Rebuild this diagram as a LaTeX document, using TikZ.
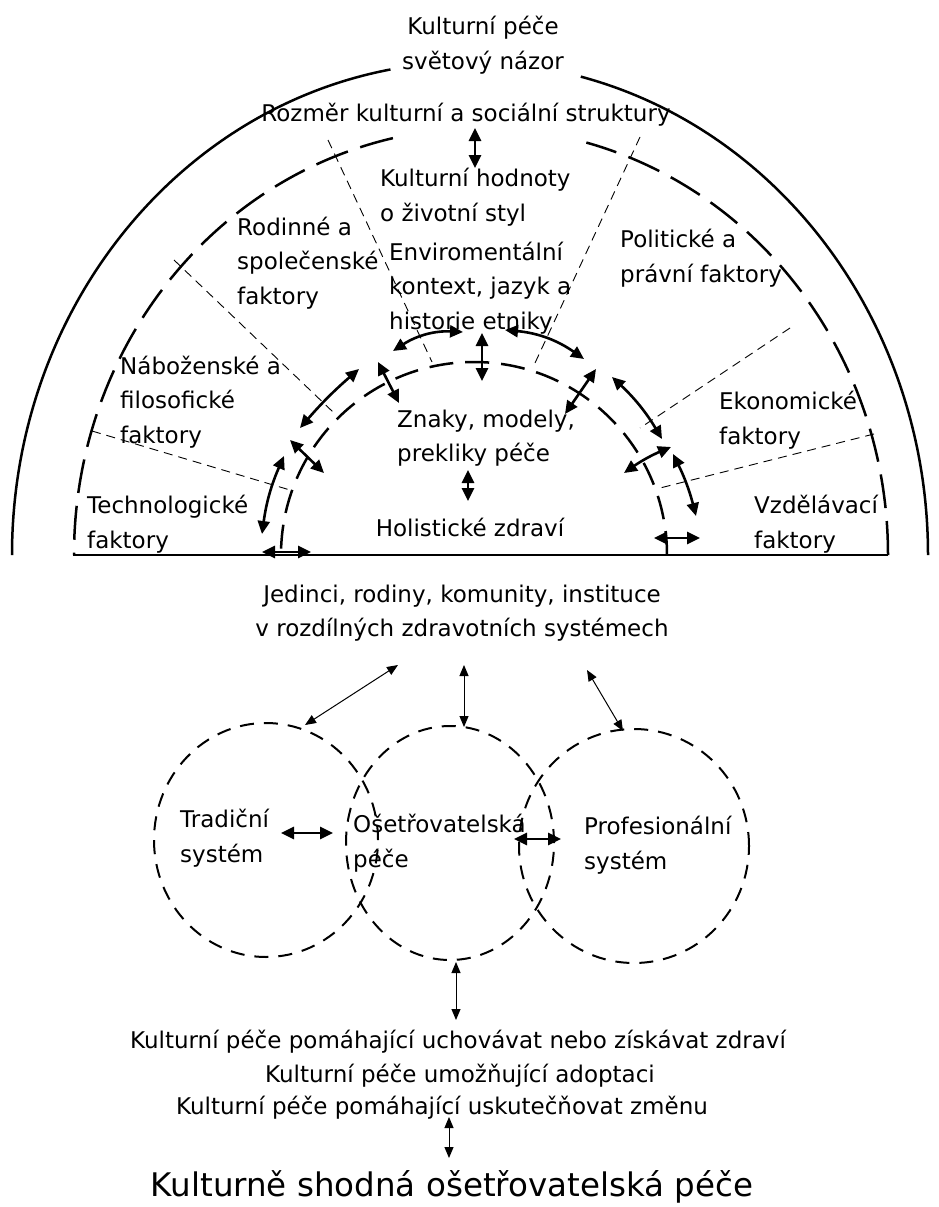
\documentclass[tikz,border=0pt]{standalone}
\usepackage{fontspec}
\setmainfont{DejaVu Sans}
\usetikzlibrary{arrows.meta}
\begin{document}
\begin{tikzpicture}[x=1pt,y=1pt,
  txt/.style={font=\fontsize{23}{34.5}\selectfont, inner sep=0pt, yshift=-5pt},
  lt/.style={txt, align=left, anchor=west},
  ct/.style={txt, align=center},
  solidarc/.style={line width=2.5pt},
  dasharc/.style={line width=2.5pt, dash pattern=on 34pt off 13pt},
  innerarc/.style={line width=2.5pt, dash pattern=on 24pt off 12pt},
  divider/.style={line width=0.9pt, dash pattern=on 9pt off 6pt},
  circ/.style={line width=2pt, dash pattern=on 14pt off 10pt},
  bigarrow/.style={line width=2.6pt, {Triangle[length=13pt,width=12pt]}-{Triangle[length=13pt,width=12pt]}},
  thinarrow/.style={line width=1pt, {Triangle[length=11pt,width=9pt]}-{Triangle[length=11pt,width=9pt]}},
]
\useasboundingbox (0,0) rectangle (939,-1207);

% ---------- arcs ----------
\draw[solidarc] (470,-555) ++(0:458 and 493) arc[start angle=0,end angle=76,x radius=458,y radius=493];
\draw[solidarc] (470,-555) ++(100:458 and 493) arc[start angle=100,end angle=180,x radius=458,y radius=493];
\draw[dasharc] (481,-555) ++(0:407 and 427) arc[start angle=0,end angle=75,x radius=407,y radius=427];
\draw[dasharc] (481,-555) ++(102.5:407 and 427) arc[start angle=102.5,end angle=180,x radius=407,y radius=427];
\draw[innerarc] (474,-555) ++(0:193) arc[start angle=0,end angle=180,radius=193];
\draw[line width=2.5pt] (73,-555) -- (888,-555);

% ---------- dividers ----------
\draw[divider] (328,-140) -- (432,-362);
\draw[divider] (640,-137) -- (535,-363);
\draw[divider] (174,-260) -- (333,-412);
\draw[divider] (92,-431) -- (290,-490);
\draw[divider] (790,-328) -- (640,-428);
\draw[divider] (874,-434) -- (660,-488);

% ---------- texts ----------
\node[ct] (kp) at (483,-40) {Kulturní péče\\světový názor};
\node[ct] (rozmer) at (466,-110) {Rozměr kulturní a sociální struktury};
\node[lt] (hodnoty) at (380,-192) {Kulturní hodnoty\\o životní styl};
\node[lt] (rodinne) at (237,-258) {Rodinné a\\společenské\\faktory};
\node[lt] (enviro) at (389,-283) {Enviromentální\\kontext, jazyk a\\historie etniky};
\node[lt] (politicke) at (620,-253) {Politické a\\právní faktory};
\node[lt] (nabozenske) at (120,-397) {Náboženské a\\filosofické\\faktory};
\node[lt] (ekonomicke) at (719,-415) {Ekonomické\\faktory};
\node[lt] (technologicke) at (87,-519) {Technologické\\faktory};
\node[lt] (vzdelavaci) at (754,-519) {Vzdělávací\\faktory};
\node[lt] (znaky) at (397,-433) {Znaky, modely,\\prekliky péče};
\node[ct] (holisticke) at (470,-522) {Holistické zdraví};
\node[ct] (jedinci) at (462,-608) {Jedinci, rodiny, komunity, instituce\\v rozdílných zdravotních systémech};
\node[lt] (tradicni) at (180,-833) {Tradiční\\systém};
\node[lt] (osetrovatelska) at (353,-838) {Ošetřovatelská\\péče};
\node[lt] (profesionalni) at (584,-840) {Profesionální\\systém};
\node[ct] (pece1) at (458,-1037) {Kulturní péče pomáhající uchovávat nebo získávat zdraví};
\node[ct] (pece2) at (460,-1071) {Kulturní péče umožňující adoptaci};
\node[ct] (pece3) at (442,-1103) {Kulturní péče pomáhající uskutečňovat změnu};
\node[txt, font=\fontsize{32.5}{36}\selectfont] (shodna) at (452,-1182) {Kulturně shodná ošetřovatelská péče};

% ---------- circles ----------
\draw[circ] (266,-840) ellipse [x radius=112,y radius=117];
\draw[circ] (450,-843) ellipse [x radius=104,y radius=117];
\draw[circ] (634,-846) ellipse [x radius=115,y radius=117];

% ---------- arrow end points ----------
\coordinate (a0s) at (475,-128); \coordinate (a0e) at (475,-168);
\coordinate (a1s) at (393,-351); \coordinate (a1e) at (463,-332);
\coordinate (a2s) at (482,-333); \coordinate (a2e) at (482,-381);
\coordinate (a3s) at (505,-330); \coordinate (a3e) at (584,-359);
\coordinate (a4s) at (300,-428); \coordinate (a4e) at (359,-369);
\coordinate (a5s) at (378,-362); \coordinate (a5e) at (399,-403);
\coordinate (a6s) at (290,-440); \coordinate (a6e) at (324,-473);
\coordinate (a7s) at (284,-456); \coordinate (a7e) at (262,-534);
\coordinate (a8s) at (262,-552); \coordinate (a8e) at (311,-552);
\coordinate (a9s) at (596,-369); \coordinate (a9e) at (565,-414);
\coordinate (a10s) at (612,-377); \coordinate (a10e) at (662,-439);
\coordinate (a11s) at (671,-447); \coordinate (a11e) at (624,-473);
\coordinate (a12s) at (673,-454); \coordinate (a12e) at (696,-516);
\coordinate (a13s) at (654,-538); \coordinate (a13e) at (700,-538);
\coordinate (a14s) at (468,-470); \coordinate (a14e) at (468,-501);
\coordinate (c1s) at (281,-833); \coordinate (c1e) at (333,-833);
\coordinate (c2s) at (514,-839); \coordinate (c2e) at (561,-839);
\coordinate (u1s) at (398,-665); \coordinate (u1e) at (305,-725);
\coordinate (u2s) at (464,-665); \coordinate (u2e) at (464,-727);
\coordinate (u3s) at (587,-670); \coordinate (u3e) at (623,-731);
\coordinate (d1s) at (456,-962); \coordinate (d1e) at (456,-1020);
\coordinate (d2s) at (449,-1117); \coordinate (d2e) at (449,-1158);

% ---------- arrows ----------
\draw[bigarrow] (a0s) -- (a0e);
\draw[bigarrow] (a1s) to[bend left=18] (a1e);
\draw[bigarrow] (a2s) -- (a2e);
\draw[bigarrow] (a3s) to[bend left=15] (a3e);
\draw[bigarrow] (a4s) to[bend left=4] (a4e);
\draw[bigarrow] (a5s) -- (a5e);
\draw[bigarrow] (a6s) -- (a6e);
\draw[bigarrow] (a7s) to[bend right=8] (a7e);
\draw[bigarrow] (a8s) -- (a8e);
\draw[bigarrow] (a9s) -- (a9e);
\draw[bigarrow] (a10s) to[bend left=8] (a10e);
\draw[bigarrow] (a11s) to[bend right=6] (a11e);
\draw[bigarrow] (a12s) to[bend left=6] (a12e);
\draw[bigarrow] (a13s) -- (a13e);
\draw[bigarrow] (a14s) -- (a14e);
\draw[bigarrow] (c1s) -- (c1e);
\draw[bigarrow] (c2s) -- (c2e);
\draw[thinarrow] (u1s) -- (u1e);
\draw[thinarrow] (u2s) -- (u2e);
\draw[thinarrow] (u3s) -- (u3e);
\draw[thinarrow] (d1s) -- (d1e);
\draw[thinarrow] (d2s) -- (d2e);
\end{tikzpicture}
\end{document}
